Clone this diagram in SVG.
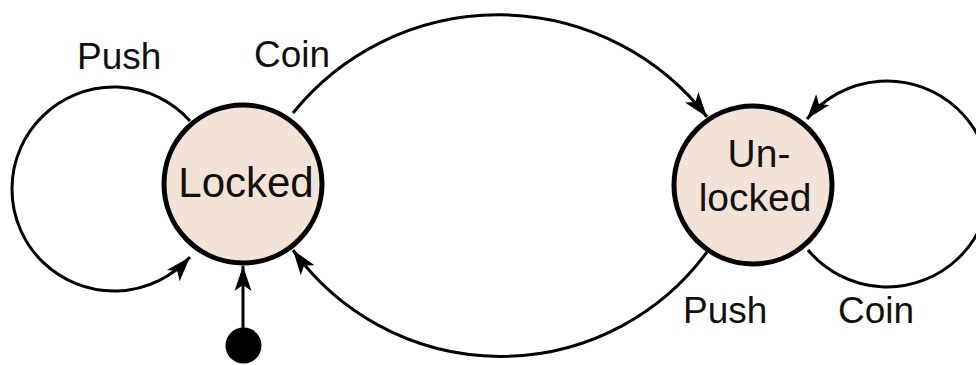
<svg xmlns="http://www.w3.org/2000/svg" width="976" height="365" viewBox="0 0 976 365">
  <defs>
    <marker id="arr" markerWidth="28" markerHeight="20" refX="26" refY="10" orient="auto" markerUnits="userSpaceOnUse" viewBox="0 0 28 20">
      <path d="M26,10 L1,1.5 L7,10 L1,18.5 Z" fill="#000"/>
    </marker>
    <style>
      .edge { fill: none; stroke: #000; stroke-width: 3; }
      .state { fill: #f3e3d7; stroke: #000; stroke-width: 5; }
      .lbl { font-family: "Liberation Sans", Arial, sans-serif; font-size: 37px; fill: #111; }
      .nlbl { font-family: "Liberation Sans", Arial, sans-serif; font-size: 42px; fill: #111; text-anchor: middle; }
      .nlbl2 { font-family: "Liberation Sans", Arial, sans-serif; font-size: 39px; fill: #111; text-anchor: middle; }
    </style>
  </defs>
  <rect width="976" height="365" fill="#fff"/>
  <g id="connectors">
    <path class="edge" d="M 190 121 A 102 102 0 1 0 190 257" marker-end="url(#arr)"/>
    <path class="edge" d="M 293 113 A 264 264 0 0 1 707 117" marker-end="url(#arr)"/>
    <path class="edge" d="M 707 252 A 256 256 0 0 1 293 250" marker-end="url(#arr)"/>
    <path class="edge" d="M 808 250 A 103 103 0 1 0 807 119" marker-end="url(#arr)"/>
    <path class="edge" d="M 243 330 L 243 266" marker-end="url(#arr)"/>
  </g>
  <g id="start">
    <circle cx="243.5" cy="345.5" r="18" fill="#000"/>
  </g>
  <g id="locked">
    <circle class="state" cx="243" cy="184" r="79"/>
    <text class="nlbl" x="246" y="197">Locked</text>
  </g>
  <g id="unlocked">
    <circle class="state" cx="753" cy="185" r="79"/>
    <text class="nlbl2" x="759" y="167">Un-</text>
    <text class="nlbl2" x="755" y="211">locked</text>
  </g>
  <g id="labels">
    <text class="lbl" x="77" y="69">Push</text>
    <text class="lbl" x="254" y="67">Coin</text>
    <text class="lbl" x="683" y="323">Push</text>
    <text class="lbl" x="838" y="323">Coin</text>
  </g>
</svg>
